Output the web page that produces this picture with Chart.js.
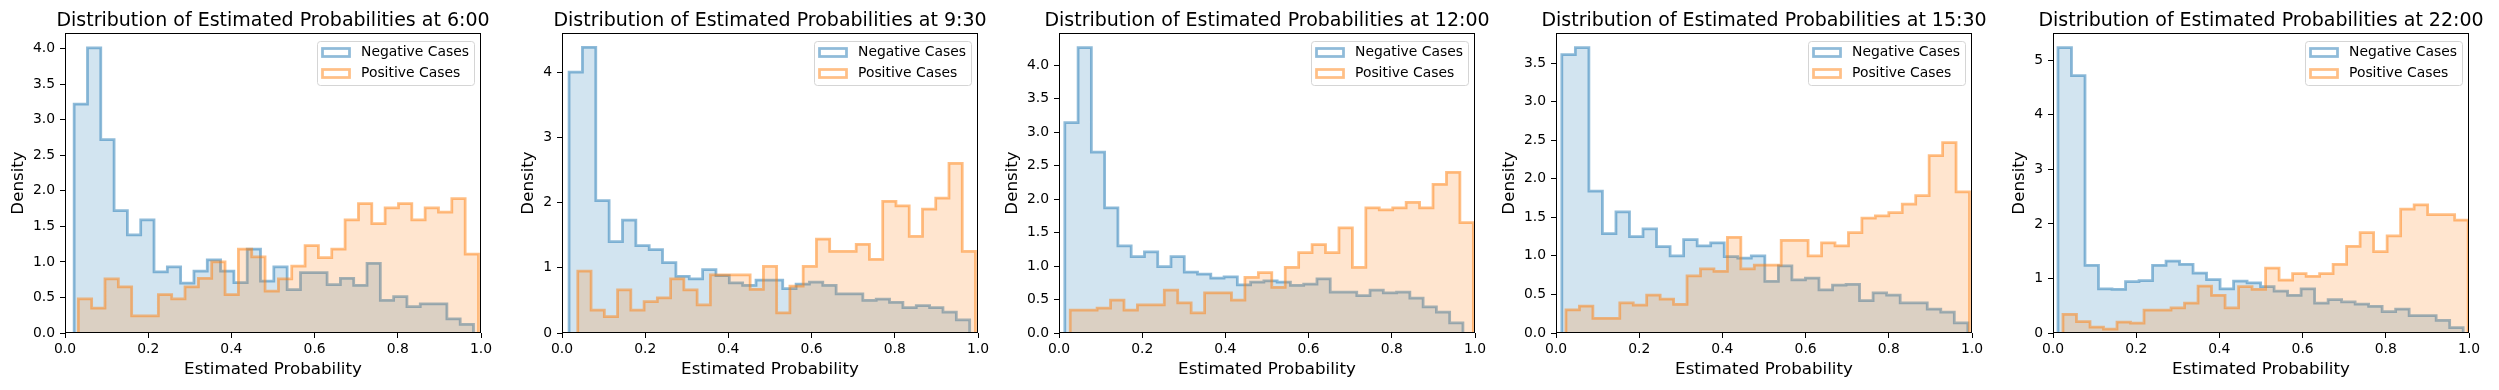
<!DOCTYPE html>
<html>
<head>
<meta charset="utf-8">
<script src="https://cdn.jsdelivr.net/npm/chart.js@4.4.1/dist/chart.umd.min.js"></script>
<style>
  html, body { margin: 0; padding: 0; background: #fff; }
  #wrap { position: relative; width: 2499px; height: 390px; }
  #wrap canvas { position: absolute; top: 0; }
</style>
</head>
<body>
<div id="wrap"></div>
<script>
// panel titles (time of day)
const panelTimes = ['6:00', '9:30', '12:00', '15:30', '22:00'];

// density of each of the 30 bins
const neg0600 = [3.22, 4.01, 2.72, 1.72, 1.38, 1.59, 0.86, 0.93, 0.70, 0.87, 1.03, 0.87, 0.71, 1.18, 0.73,
    0.93, 0.61, 0.85, 0.85, 0.68, 0.77, 0.67, 0.98, 0.46, 0.51, 0.37, 0.41, 0.41, 0.20, 0.12];
const pos0600 = [0.48, 0.35, 0.76, 0.65, 0.24, 0.24, 0.54, 0.48, 0.65, 0.77, 1.00, 0.54, 1.18, 1.07, 0.59,
    0.76, 0.94, 1.23, 1.06, 1.18, 1.59, 1.82, 1.54, 1.76, 1.82, 1.59, 1.76, 1.70, 1.89, 1.11];

const neg0930 = [4.00, 4.38, 2.03, 1.40, 1.73, 1.34, 1.28, 1.08, 0.87, 0.83, 0.97, 0.88, 0.77, 0.73, 0.81,
    0.81, 0.68, 0.75, 0.78, 0.73, 0.60, 0.60, 0.50, 0.52, 0.47, 0.39, 0.42, 0.39, 0.32, 0.20];
const pos0930 = [0.95, 0.35, 0.25, 0.66, 0.35, 0.48, 0.54, 0.83, 0.66, 0.43, 0.89, 0.89, 0.89, 0.67, 1.02,
    0.31, 0.72, 1.02, 1.44, 1.25, 1.25, 1.36, 1.13, 2.02, 1.95, 1.48, 1.90, 2.07, 2.60, 1.25];

const neg1200 = [3.14, 4.26, 2.70, 1.87, 1.30, 1.14, 1.21, 0.99, 1.14, 0.91, 0.88, 0.82, 0.84, 0.72, 0.76,
    0.78, 0.76, 0.71, 0.73, 0.81, 0.61, 0.61, 0.56, 0.64, 0.60, 0.61, 0.52, 0.39, 0.31, 0.15];
const pos1200 = [0.34, 0.34, 0.37, 0.49, 0.34, 0.42, 0.42, 0.64, 0.45, 0.30, 0.60, 0.60, 0.49, 0.83, 0.90,
    0.68, 0.98, 1.20, 1.32, 1.20, 1.57, 0.98, 1.87, 1.84, 1.87, 1.95, 1.87, 2.22, 2.40, 1.65];

const neg1530 = [3.61, 3.70, 1.84, 1.29, 1.57, 1.25, 1.35, 1.12, 1.00, 1.21, 1.13, 1.17, 0.99, 0.97, 1.00,
    0.67, 0.87, 0.69, 0.71, 0.56, 0.62, 0.63, 0.42, 0.52, 0.49, 0.39, 0.39, 0.31, 0.27, 0.13];
const pos1530 = [0.30, 0.35, 0.19, 0.19, 0.39, 0.36, 0.49, 0.44, 0.37, 0.74, 0.83, 0.80, 1.24, 0.83, 0.88,
    0.88, 1.20, 1.20, 1.00, 1.17, 1.13, 1.30, 1.49, 1.52, 1.56, 1.67, 1.78, 2.30, 2.47, 1.83];

const neg2200 = [5.23, 4.72, 1.24, 0.81, 0.80, 0.94, 0.96, 1.24, 1.32, 1.26, 1.10, 0.98, 0.81, 0.95, 0.92,
    0.85, 0.77, 0.69, 0.81, 0.55, 0.61, 0.57, 0.53, 0.49, 0.39, 0.44, 0.32, 0.32, 0.23, 0.10];
const pos2200 = [0.34, 0.21, 0.11, 0.07, 0.20, 0.18, 0.42, 0.42, 0.46, 0.55, 0.86, 0.69, 0.46, 0.85, 0.80,
    1.19, 0.97, 1.09, 1.04, 1.09, 1.26, 1.59, 1.84, 1.49, 1.78, 2.27, 2.35, 2.17, 2.17, 2.07];

const negValues = [neg0600, neg0930, neg1200, neg1530, neg2200];
const posValues = [pos0600, pos0930, pos1200, pos1530, pos2200];

// [min, max] of the estimated probabilities -> outer bin edges
const negRange = [[0.022, 0.982], [0.017, 0.980], [0.014, 0.971], [0.014, 0.990], [0.012, 0.986]];
const posRange = [[0.032, 0.994], [0.038, 0.994], [0.027, 0.996], [0.024, 0.994], [0.024, 0.998]];

// y axis
const yMax = [4.22, 4.60, 4.48, 3.89, 5.50];
const yStep = [0.5, 1, 0.5, 0.5, 1];
const yDecimals = [1, 0, 1, 1, 0];

const FONT = '"DejaVu Sans"';
Chart.defaults.font.family = FONT;
Chart.defaults.color = '#000';

const PANEL_W = 497;

// step outline for a histogram: start on the axis, go through every bin, close on the axis
function stepPoints(vals, range) {
    const lo = range[0], hi = range[1];
    const w = (hi - lo) / vals.length;
    const pts = [{ x: lo, y: 0 }];
    vals.forEach((v, k) => pts.push({ x: lo + k * w, y: v }));
    pts.push({ x: hi, y: 0 });
    return pts;
}

// matplotlib style: title centred on the axes (may be wider than them),
// box around the axes and a legend in the upper right
const frameAndLegend = {
    id: 'frameAndLegend',
    afterDatasetsDraw(chart, args, opts) {
        const ctx = chart.ctx, a = chart.chartArea;
        ctx.save();
        ctx.strokeStyle = '#000';
        ctx.lineWidth = 1;
        ctx.strokeRect(a.left + 0.5, a.top + 0.5, a.right - a.left - 1, a.bottom - a.top - 1);

        ctx.fillStyle = '#000';
        ctx.font = '19px ' + FONT;
        ctx.textAlign = 'center';
        ctx.textBaseline = 'alphabetic';
        ctx.fillText(opts.title, (a.left + a.right) / 2, 25.5);

        const w = 157, h = 44;
        const x0 = a.right - 7 - w, y0 = a.top + 8;
        ctx.beginPath();
        ctx.roundRect(x0 + 0.5, y0 + 0.5, w, h, 3);
        ctx.fillStyle = 'rgba(255,255,255,0.8)';
        ctx.fill();
        ctx.strokeStyle = '#d5d5d5';
        ctx.lineWidth = 1;
        ctx.stroke();

        ctx.font = '13.9px ' + FONT;
        ctx.textAlign = 'left';
        ctx.textBaseline = 'middle';
        chart.data.datasets.forEach((ds, i) => {
            const cy = y0 + 11.5 + i * 21;
            ctx.strokeStyle = ds.borderColor;
            ctx.lineWidth = 2.75;
            ctx.strokeRect(x0 + 5.5, cy - 4, 27, 8);
            ctx.fillStyle = '#000';
            ctx.fillText(ds.label, x0 + 44, cy);
        });
        ctx.restore();
    }
};

function createPanel(i) {
    const canvas = document.createElement('canvas');
    canvas.width = PANEL_W;
    canvas.height = 390;
    canvas.style.left = (i * PANEL_W) + 'px';
    document.getElementById('wrap').appendChild(canvas);

    // distance from axes to the "Density" label differs with tick label width
    const yTitleCenter = yDecimals[i] ? 19 : 32;
    const padLeft = yTitleCenter - 10;

    const config = {
        type: 'line',
        data: {
            datasets: [{
                label: 'Negative Cases',
                data: stepPoints(negValues[i], negRange[i]),
                borderColor: 'rgba(31,119,180,0.5)',
                backgroundColor: 'rgba(31,119,180,0.2)',
                borderWidth: 2.75,
                borderJoinStyle: 'miter',
                stepped: 'before',
                fill: 'origin',
                pointRadius: 0,
                order: 2,
            }, {
                label: 'Positive Cases',
                data: stepPoints(posValues[i], posRange[i]),
                borderColor: 'rgba(255,127,14,0.5)',
                backgroundColor: 'rgba(255,127,14,0.2)',
                borderWidth: 2.75,
                borderJoinStyle: 'miter',
                stepped: 'before',
                fill: 'origin',
                pointRadius: 0,
                order: 1,
            }],
        },
        options: {
            responsive: false,
            animation: false,
            devicePixelRatio: 1,
            layout: {
                padding: { left: padLeft, right: 16, top: 33, bottom: 0 },
            },
            plugins: {
                legend: { display: false },
                tooltip: { enabled: false },
                title: { display: false },
                frameAndLegend: {
                    title: 'Distribution of Estimated Probabilities at ' + panelTimes[i],
                },
            },
            scales: {
                x: {
                    type: 'linear',
                    min: 0,
                    max: 1,
                    afterFit: (s) => { s.height = 57; },
                    border: { display: false },
                    grid: { display: true, drawOnChartArea: false, drawTicks: true, tickLength: 5, color: '#000' },
                    ticks: {
                        stepSize: 0.2,
                        padding: 3,
                        maxRotation: 0,
                        font: { family: FONT, size: 13.9 },
                        callback: (v) => v.toFixed(1),
                    },
                    title: {
                        display: true,
                        text: 'Estimated Probability',
                        font: { family: FONT, size: 16.7, lineHeight: 1.2 },
                        padding: { top: 0, bottom: 10 },
                    },
                },
                y: {
                    min: 0,
                    max: yMax[i],
                    afterFit: (s) => { s.width = 65 - padLeft; },
                    border: { display: false },
                    grid: { display: true, drawOnChartArea: false, drawTicks: true, tickLength: 5, color: '#000' },
                    ticks: {
                        stepSize: yStep[i],
                        includeBounds: false,
                        padding: 5,
                        font: { family: FONT, size: 13.9 },
                        callback: (v) => v.toFixed(yDecimals[i]),
                    },
                    title: {
                        display: true,
                        text: 'Density',
                        font: { family: FONT, size: 16.7, lineHeight: 1.2 },
                        padding: 0,
                    },
                },
            },
        },
        plugins: [frameAndLegend],
    };
    return new Chart(canvas, config);
}

for (let i = 0; i < panelTimes.length; i++) createPanel(i);
</script>
</body>
</html>
